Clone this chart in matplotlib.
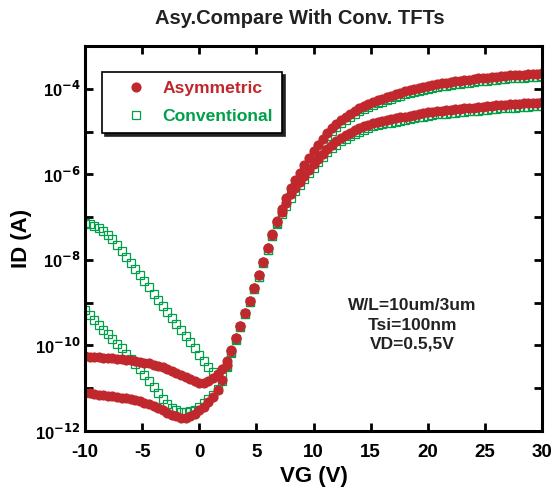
import numpy as np
import matplotlib
matplotlib.use('Agg')
import matplotlib.pyplot as plt
from matplotlib.ticker import FixedLocator, FixedFormatter

plt.rcParams['font.family'] = ['Liberation Sans', 'DejaVu Sans']
plt.rcParams['font.weight'] = 'bold'

# gate voltage sweep, 0.4 V step
vg = np.linspace(-10, 30, 101)

# log10(ID)
asym_vd5 = [
    -10.25, -10.26, -10.27, -10.28, -10.29, -10.29, -10.30, -10.31, -10.32, -10.33,
    -10.35, -10.36, -10.38, -10.40, -10.42, -10.45, -10.48, -10.51, -10.55, -10.59,
    -10.64, -10.69, -10.74, -10.79, -10.84, -10.88, -10.88, -10.84, -10.77, -10.67,
    -10.54, -10.36, -10.10, -9.82, -9.54, -9.24, -8.95, -8.65, -8.36, -8.05,
    -7.72, -7.40, -7.09, -6.82, -6.56, -6.33, -6.14, -5.96, -5.79, -5.62,
    -5.46, -5.31, -5.17, -5.03, -4.92, -4.82, -4.73, -4.66, -4.59, -4.52,
    -4.46, -4.41, -4.36, -4.31, -4.27, -4.23, -4.19, -4.16, -4.12, -4.09,
    -4.06, -4.03, -4.00, -3.98, -3.95, -3.93, -3.91, -3.89, -3.87, -3.86,
    -3.84, -3.83, -3.81, -3.80, -3.79, -3.78, -3.76, -3.75, -3.74, -3.73,
    -3.72, -3.71, -3.70, -3.69, -3.68, -3.68, -3.67, -3.66, -3.65, -3.65,
    -3.64]

asym_vd05 = [
    -11.11, -11.12, -11.14, -11.15, -11.16, -11.18, -11.19, -11.21, -11.22, -11.24,
    -11.26, -11.28, -11.31, -11.34, -11.38, -11.42, -11.47, -11.52, -11.57, -11.62,
    -11.66, -11.69, -11.69, -11.66, -11.60, -11.52, -11.43, -11.33, -11.21, -11.05,
    -10.80, -10.45, -10.12, -9.83, -9.54, -9.24, -8.95, -8.65, -8.36, -8.05,
    -7.73, -7.42, -7.12, -6.88, -6.66, -6.47, -6.32, -6.18, -6.04, -5.90,
    -5.77, -5.64, -5.52, -5.40, -5.31, -5.23, -5.15, -5.09, -5.03, -4.97,
    -4.92, -4.88, -4.84, -4.80, -4.77, -4.75, -4.73, -4.71, -4.69, -4.67,
    -4.65, -4.63, -4.61, -4.59, -4.57, -4.55, -4.54, -4.52, -4.51, -4.50,
    -4.49, -4.48, -4.47, -4.46, -4.45, -4.44, -4.43, -4.42, -4.41, -4.40,
    -4.39, -4.38, -4.37, -4.36, -4.36, -4.35, -4.34, -4.34, -4.33, -4.33,
    -4.32]

conv_vd5 = [
    -7.13, -7.16, -7.20, -7.25, -7.32, -7.41, -7.52, -7.65, -7.79, -7.93,
    -8.07, -8.21, -8.36, -8.50, -8.64, -8.79, -8.93, -9.07, -9.21, -9.36,
    -9.50, -9.64, -9.79, -9.93, -10.07, -10.22, -10.36, -10.50, -10.62, -10.70,
    -10.72, -10.50, -10.18, -9.87, -9.57, -9.27, -8.98, -8.68, -8.39, -8.08,
    -7.76, -7.44, -7.14, -6.87, -6.62, -6.40, -6.21, -6.03, -5.86, -5.69,
    -5.53, -5.38, -5.24, -5.10, -4.99, -4.89, -4.80, -4.73, -4.66, -4.59,
    -4.53, -4.48, -4.43, -4.38, -4.34, -4.30, -4.26, -4.23, -4.19, -4.16,
    -4.13, -4.10, -4.07, -4.05, -4.02, -4.00, -3.98, -3.96, -3.94, -3.93,
    -3.91, -3.90, -3.88, -3.87, -3.86, -3.85, -3.83, -3.82, -3.81, -3.80,
    -3.79, -3.78, -3.77, -3.76, -3.75, -3.75, -3.74, -3.73, -3.72, -3.72,
    -3.71]

conv_vd05 = [
    -9.17, -9.28, -9.40, -9.52, -9.63, -9.74, -9.85, -9.96, -10.07, -10.19,
    -10.31, -10.43, -10.56, -10.70, -10.84, -10.98, -11.12, -11.25, -11.37, -11.46,
    -11.52, -11.55, -11.56, -11.54, -11.50, -11.43, -11.35, -11.26, -11.15, -11.02,
    -10.82, -10.48, -10.15, -9.86, -9.57, -9.27, -8.98, -8.68, -8.39, -8.08,
    -7.76, -7.45, -7.16, -6.92, -6.73, -6.55, -6.40, -6.26, -6.12, -5.98,
    -5.85, -5.72, -5.60, -5.48, -5.39, -5.31, -5.23, -5.17, -5.11, -5.05,
    -5.00, -4.96, -4.92, -4.88, -4.85, -4.83, -4.81, -4.79, -4.77, -4.75,
    -4.73, -4.71, -4.69, -4.67, -4.65, -4.63, -4.62, -4.60, -4.59, -4.58,
    -4.57, -4.56, -4.55, -4.54, -4.53, -4.52, -4.51, -4.50, -4.49, -4.48,
    -4.47, -4.46, -4.45, -4.44, -4.44, -4.43, -4.42, -4.42, -4.41, -4.41,
    -4.40]

x_ticks = [-10, -5, 0, 5, 10, 15, 20, 25, 30]
y_exps = list(range(-12, -2))
red = '#c0282d'
green = '#00a04a'

fig = plt.figure(figsize=(5.52, 4.94), dpi=100)
ax = fig.add_axes([0.154, 0.1275, 0.828, 0.7795])

for curve in [conv_vd5, conv_vd05]:
    ax.plot(vg, 10.0 ** np.array(curve), 's', ms=6.0, mfc='none', mec=green,
            mew=0.9, ls='none')
for curve in [asym_vd5, asym_vd05]:
    ax.plot(vg, 10.0 ** np.array(curve), 'o', ms=7.3, mfc=red, mec=red,
            mew=0, ls='none')

ax.set_yscale('log')
ax.set_xlim(-10, 30)
ax.set_ylim(1e-12, 1e-3)
ax.xaxis.set_major_locator(FixedLocator(x_ticks))
ax.set_xticklabels([str(t) for t in x_ticks])
ax.yaxis.set_major_locator(FixedLocator([10.0 ** e for e in y_exps]))
ax.yaxis.set_minor_locator(FixedLocator([]))
ax.yaxis.set_major_formatter(FixedFormatter(
    ['10$^{%d}$' % e if e % 2 == 0 else '' for e in y_exps]))

for s in ax.spines.values():
    s.set_linewidth(2.2)
ax.tick_params(which='both', direction='in', top=True, right=True,
               length=6, width=2, labelsize=12)
ax.tick_params(axis='x', pad=9, labelsize=13.5)
ax.tick_params(axis='y', pad=3)

ax.set_xlabel('VG (V)', fontsize=16, fontweight='bold', labelpad=4)
ax.set_ylabel('ID (A)', fontsize=16, fontweight='bold', labelpad=2)
fig.text(300 / 552, 1 - 19 / 494, 'Asy.Compare With Conv. TFTs',
         ha='center', va='center', fontsize=14.5, fontweight='bold', color='#222222')

# legend with dark drop shadow
h1 = ax.plot([], [], 'o', ms=7.3, mfc=red, mec=red, mew=0)[0]
h2 = ax.plot([], [], 's', ms=6.0, mfc='none', mec=green, mew=0.9)[0]
leg = ax.legend([h1, h2], ['Asymmetric', 'Conventional'], loc='upper left',
                bbox_to_anchor=(0.037, 0.932), borderaxespad=0, fancybox=False,
                edgecolor='black', framealpha=1, labelcolor=[red, green],
                prop={'size': 12.6, 'weight': 'bold'}, handlelength=2.85,
                handletextpad=0.1, borderpad=0.52, labelspacing=0.7,
                shadow={'color': '#222222', 'alpha': 1, 'ox': 2, 'oy': -2})
leg.get_frame().set_linewidth(1.2)

fig.text(412 / 552, 1 - 325 / 494, 'W/L=10um/3um\nTsi=100nm\nVD=0.5,5V',
         ha='center', va='center', fontsize=12.5, fontweight='bold',
         color='#222222', linespacing=1.36)

fig.savefig('out.png', dpi=100)
